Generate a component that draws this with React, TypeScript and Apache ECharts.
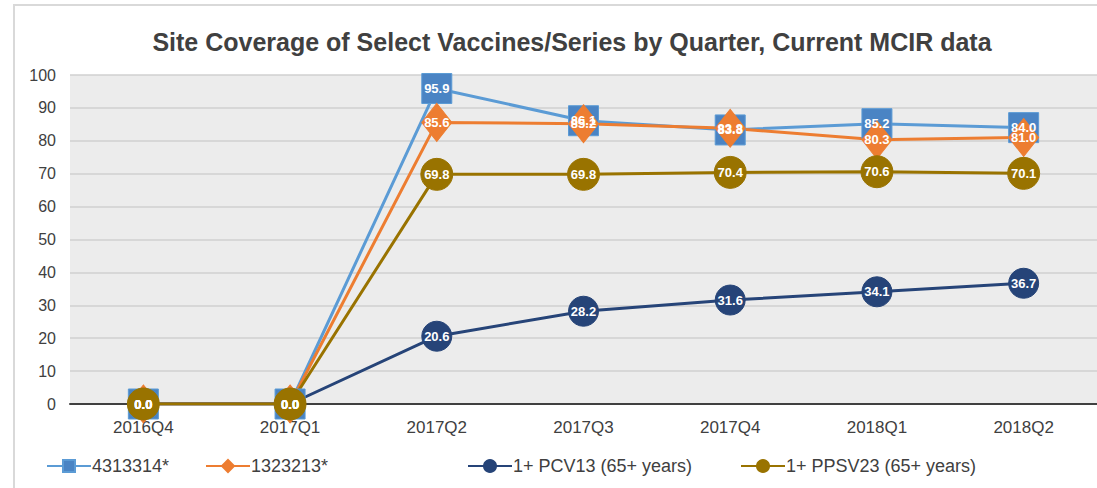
import React, { useEffect, useRef } from "react";
import * as echarts from "echarts";

const categories = ["2016Q4", "2017Q1", "2017Q2", "2017Q3", "2017Q4", "2018Q1", "2018Q2"];
const yTicks = [0, 10, 20, 30, 40, 50, 60, 70, 80, 90, 100];
const seriesNames = ["4313314*", "1323213*", "1+ PCV13 (65+ years)", "1+ PPSV23 (65+ years)"];
const s4313314 = [0.0, 0.0, 95.9, 86.1, 83.3, 85.2, 84.0];
const s1323213 = [0.0, 0.0, 85.6, 85.2, 83.8, 80.3, 81.0];
const sPCV13 = [0.0, 0.0, 20.6, 28.2, 31.6, 34.1, 36.7];
const sPPSV23 = [0.0, 0.0, 69.8, 69.8, 70.4, 70.6, 70.1];

const FONT = "'Liberation Sans', Arial, sans-serif";
const legendLefts = [46, 205, 467, 740];

export default function App() {
  const ref = useRef<HTMLDivElement>(null);
  useEffect(() => {
    const chart = echarts.init(ref.current!, null, { renderer: "svg" });
    const label = {
      show: true,
      position: "inside",
      color: "#ffffff",
      fontFamily: FONT,
      fontWeight: "bold",
      fontSize: 13,
      formatter: (p: any) => Number(p.value).toFixed(1),
    };
    const mk = (name: string, data: number[], color: string, fill: string, symbol: string, size: any) => ({
      name,
      type: "line",
      data,
      symbol,
      symbolSize: size,
      showAllSymbol: true,
      lineStyle: { color, width: 3 },
      itemStyle: { color: fill, borderColor: color, borderWidth: 1 },
      label,
      emphasis: { disabled: true },
    });
    chart.setOption({
      animation: false,
      backgroundColor: "#ffffff",
      title: {
        text: "Site Coverage of Select Vaccines/Series by Quarter, Current MCIR data",
        left: 567,
        textAlign: "center",
        top: 24,
        textStyle: { fontFamily: FONT, fontWeight: "bold", fontSize: 25, color: "#404040" },
      },
      graphic: [
        {
          type: "rect",
          shape: { x: 14, y: 5, width: 1200, height: 600 },
          style: { fill: "none", stroke: "#d9d9d9", lineWidth: 2 },
          silent: true,
          z: -1,
        },
      ],
      legend: seriesNames.map((n, i) => ({
        top: 457,
        left: legendLefts[i],
        padding: 0,
        itemWidth: 44,
        itemHeight: 15,
        textStyle: { fontFamily: FONT, fontSize: 18, color: "#404040", padding: [0, 0, 0, -4] },
        data: [n],
      })),
      grid: {
        left: 70,
        right: 0,
        top: 75,
        bottom: 84,
        show: true,
        backgroundColor: "#ececec",
        borderWidth: 0,
      },
      xAxis: {
        type: "category",
        data: categories,
        boundaryGap: true,
        axisLine: { show: true, lineStyle: { color: "#404040", width: 2 } },
        axisTick: { show: false },
        axisLabel: { fontFamily: FONT, fontSize: 17, color: "#404040", margin: 15 },
      },
      yAxis: {
        type: "value",
        min: yTicks[0],
        max: yTicks[yTicks.length - 1],
        interval: 10,
        axisLine: { show: false },
        axisTick: { show: false },
        splitLine: { lineStyle: { color: "#d0d0d0", width: 1.5 } },
        axisLabel: { fontFamily: FONT, fontSize: 16, color: "#404040", margin: 14 },
      },
      series: [
        mk(seriesNames[0], s4313314, "#5b9bd5", "#4a84c4", "rect", [30, 30]),
        mk(seriesNames[1], s1323213, "#ed7d31", "#ed7d31", "diamond", [30, 38]),
        mk(seriesNames[2], sPCV13, "#264478", "#264478", "circle", 30),
        mk(seriesNames[3], sPPSV23, "#997300", "#997300", "circle", 32),
      ],
    });
    return () => chart.dispose();
  }, []);
  return (
    <div
      ref={ref}
      style={{ position: "fixed", left: 0, top: 0, width: 1097, height: 488 }}
    />
  );
}
